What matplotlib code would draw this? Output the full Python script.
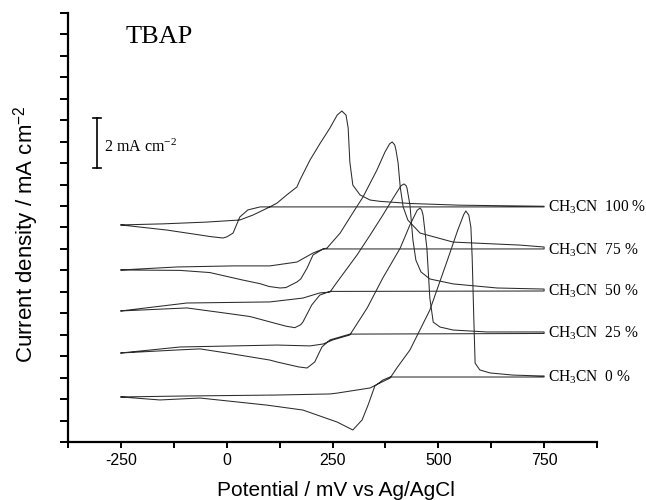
import matplotlib
matplotlib.use("Agg")
import matplotlib.pyplot as plt
from matplotlib.ticker import MultipleLocator, NullFormatter

plt.rcParams['mathtext.fontset'] = 'custom'
plt.rcParams['mathtext.rm'] = 'Liberation Serif'
plt.rcParams['mathtext.it'] = 'Liberation Serif:italic'
plt.rcParams['mathtext.sf'] = 'Liberation Sans'

# ---- data (potential in mV, current density in plot units incl. vertical offset) ----
pot_100 = [-250, -150, -50, 31, 62, 102, 119, 142, 166, 173, 197, 220, 244, 261, 272, 282, 287, 291, 298, 315,
           339, 362, 433, 551, 750,
           750, 79, 50, 31, 15, 0, -9, -40, -63, -141, -250]
cur_100 = [10.12, 10.17, 10.25, 10.35, 10.58, 10.96, 11.14, 11.52, 11.89, 12.21, 13.15, 13.9, 14.64, 15.24, 15.43,
           15.24, 14.64, 13.05, 11.98, 11.52, 11.28, 11.22, 11.12, 11.04, 10.99,
           10.96, 10.96, 10.82, 10.49, 9.74, 9.56, 9.51, 9.58, 9.65, 9.88, 10.12]

pot_75 = [-250, -117, 15, 102, 166, 204, 228, 237, 268, 298, 322, 355, 374, 385, 391, 397, 400, 405, 410, 417,
          428, 457, 535, 693, 750,
          750, 228, 204, 190, 175, 166, 140, 126, 100, 79, 38, -40, -110, -250]
cur_75 = [8.02, 8.16, 8.21, 8.21, 8.39, 8.81, 9.0, 9.04, 9.74, 10.68, 11.42, 12.68, 13.52, 13.9, 13.99, 13.85,
          13.61, 13.01, 11.89, 10.96, 10.35, 9.74, 9.32, 9.18, 9.09,
          9.0, 9.0, 8.72, 8.11, 7.6, 7.46, 7.2, 7.18, 7.25, 7.38, 7.55, 7.9, 8.0, 8.02]

pot_50 = [-250, -94, 102, 180, 220, 244, 261, 308, 339, 369, 398, 412, 419, 424, 426, 433, 440, 447, 459, 480,
          535, 639, 750,
          750, 244, 220, 201, 180, 175, 161, 140, 102, 55, 0, -94, -250]
cur_50 = [6.11, 6.48, 6.53, 6.71, 6.95, 6.99, 7.46, 8.72, 9.65, 10.58, 11.52, 11.95, 12.03, 11.95, 11.84, 11.05,
          9.42, 8.48, 7.93, 7.6, 7.37, 7.18, 7.13,
          7.04, 7.02, 6.85, 6.39, 5.59, 5.47, 5.33, 5.4, 5.6, 5.85, 6.0, 6.25, 6.11]

pot_25 = [-250, -110, 119, 197, 228, 251, 291, 332, 369, 410, 433, 450, 457, 461, 464, 473, 480, 488, 504, 535,
          615, 750,
          750, 291, 244, 225, 208, 190, 170, 150, 119, 102, 0, -63, -117, -250]
cur_25 = [4.15, 4.43, 4.52, 4.48, 4.57, 4.76, 4.99, 6.25, 7.65, 9.04, 10.12, 10.8, 10.91, 10.8, 10.58, 9.04,
          6.71, 5.59, 5.36, 5.22, 5.13, 5.13,
          5.06, 5.03, 4.76, 4.43, 3.73, 3.45, 3.5, 3.59, 3.73, 3.82, 4.15, 4.34, 4.29, 4.15]

pot_0 = [-250, -117, 119, 244, 261, 339, 362, 386, 402, 433, 480, 520, 546, 560, 565, 572, 577, 580, 584, 587,
         598, 622, 676, 740, 750,
         750, 386, 369, 350, 334, 320, 298, 261, 180, 95, -63, -158, -250]
cur_0 = [2.10, 2.14, 2.19, 2.24, 2.28, 2.52, 2.75, 2.98, 3.45, 4.29, 6.15, 8.39, 9.88, 10.6, 10.77, 10.58, 10.02,
         8.62, 5.69, 3.68, 3.36, 3.22, 3.12, 3.08, 3.08,
         3.03, 3.03, 2.89, 2.61, 1.72, 1.03, 0.56, 0.93, 1.49, 1.72, 2.05, 1.96, 2.10]

curve_pots = [pot_100, pot_75, pot_50, pot_25, pot_0]
curve_curs = [cur_100, cur_75, cur_50, cur_25, cur_0]
curve_labels = ['CH$_3$CN  100 %', 'CH$_3$CN  75 %', 'CH$_3$CN  50 %', 'CH$_3$CN  25 %', 'CH$_3$CN  0 %']
label_levels = [10.96, 8.95, 7.04, 5.08, 3.03]

xticks = [-250, 0, 250, 500, 750]
xticklabels = ['-250', '0', '250', '500', '750']

# ---- figure ----
fig = plt.figure(figsize=(6.46, 5.0), dpi=100)
ax = fig.add_axes([68 / 646, 58 / 500, 529 / 646, 429 / 500])

for p, c in zip(curve_pots, curve_curs):
    ax.plot(p, c, color='#2b2b2b', lw=0.75, solid_joinstyle='round')

ax.set_xlim(-375, 875)
ax.set_ylim(0, 20)

for s in ['top', 'right']:
    ax.spines[s].set_visible(False)
for s in ['left', 'bottom']:
    ax.spines[s].set_linewidth(1.6)

ax.set_xticks(xticks)
ax.set_xticklabels(xticklabels, fontfamily='Liberation Sans', fontsize=11.5)
ax.xaxis.set_minor_locator(MultipleLocator(125))
ax.tick_params(axis='x', which='both', direction='out', length=4.3, width=1.4, pad=3.5)
ax.yaxis.set_major_locator(MultipleLocator(1))
ax.yaxis.set_major_formatter(NullFormatter())
ax.tick_params(axis='y', which='major', direction='out', length=5.8, width=1.4)

fig.text(335.5 / 646, 4 / 500, 'Potential / mV vs Ag/AgCl', ha='center', va='baseline',
         fontfamily='Liberation Sans', fontsize=15)
fig.text(33 / 646, 0.531, r'Current density / mA cm$^{\mathsf{-2}}$', rotation=90, rotation_mode='anchor',
         ha='center', va='baseline', fontfamily='Liberation Sans', fontsize=16)

ax.text(-240, 18.88, 'TBAP', ha='left', va='center', fontfamily='Liberation Serif', fontsize=19)

# scale bar 2 mA cm-2
ax.plot([-306.5, -306.5], [12.77, 15.10], color='black', lw=1.2)
ax.plot([-316, -297], [15.10, 15.10], color='black', lw=1.2)
ax.plot([-316, -297], [12.77, 12.77], color='black', lw=1.2)
ax.text(-289, 13.75, '2 mA cm$^{-2}$', ha='left', va='center', fontfamily='Liberation Serif', fontsize=11.5)

for lab, lev in zip(curve_labels, label_levels):
    ax.text(759, lev, lab, ha='left', va='center', fontfamily='Liberation Serif', fontsize=11.2, clip_on=False)

fig.savefig('out.png', dpi=100)
